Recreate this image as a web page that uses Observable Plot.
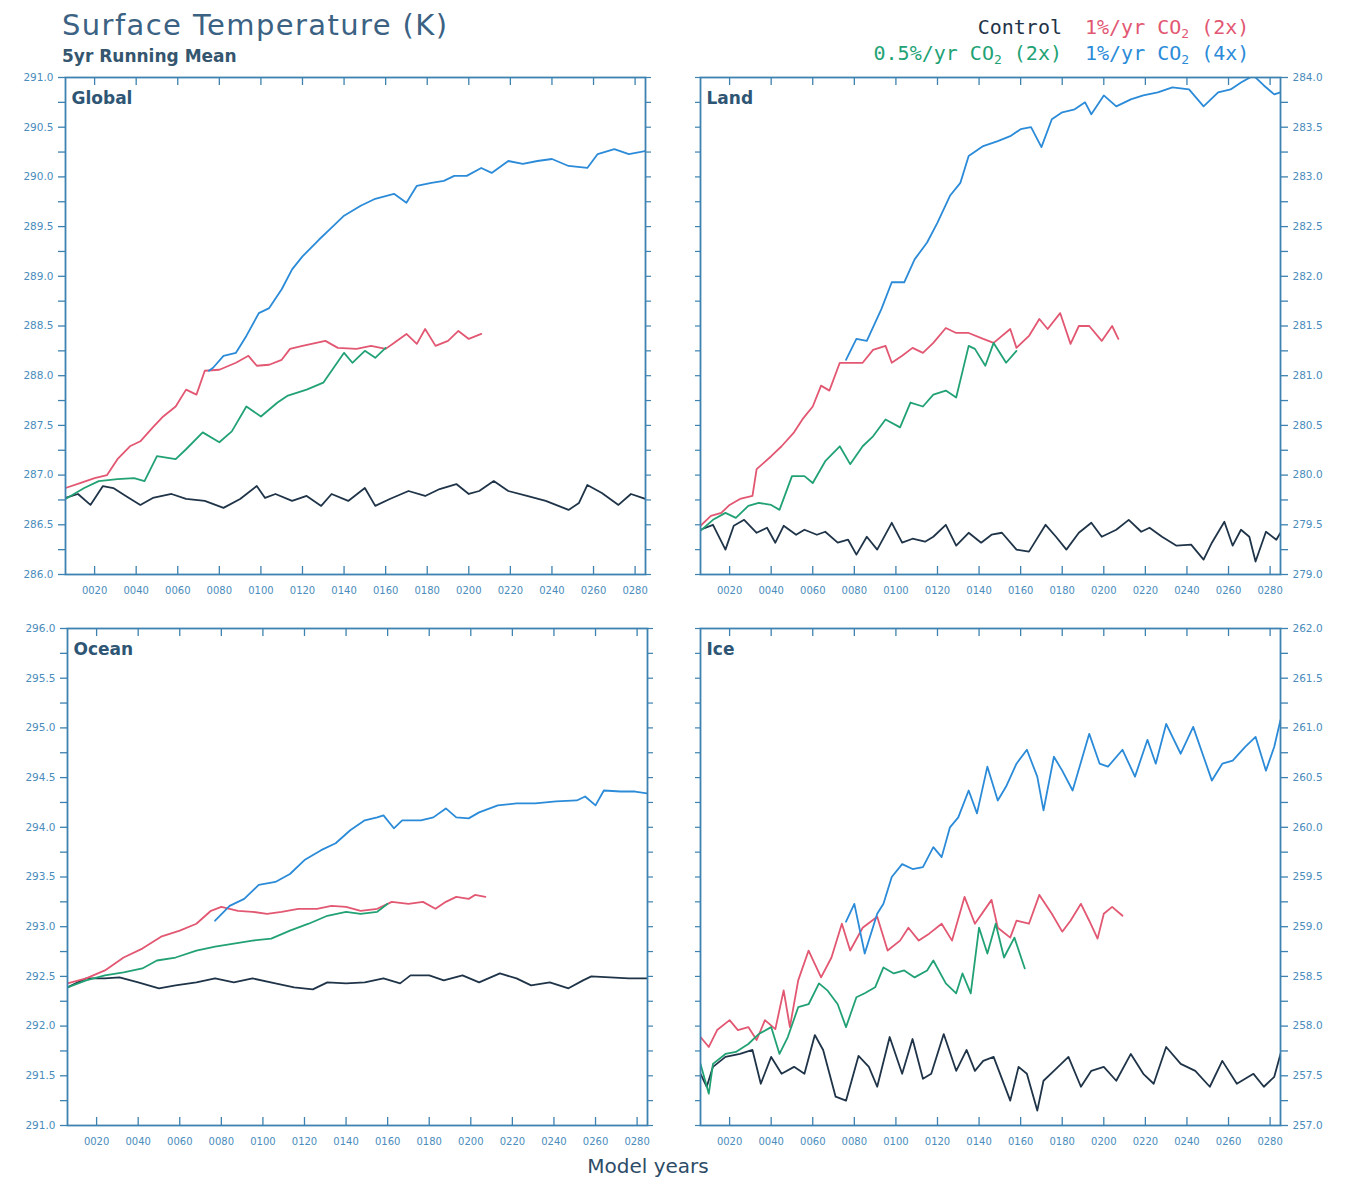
<!DOCTYPE html>
<html>
<head>
<meta charset="utf-8">
<script src="https://cdn.jsdelivr.net/npm/d3@7"></script>
<script src="https://cdn.jsdelivr.net/npm/@observablehq/plot@0.6"></script>
<style>
  html, body { margin: 0; padding: 0; background: #fff; }
  #root { position: relative; width: 1350px; height: 1180px; background: #fff; overflow: hidden; font-family: "DejaVu Sans", sans-serif; }
  .abs { position: absolute; white-space: nowrap; }
  .panel { position: absolute; }
  .panel svg { background: transparent; }
  #title { left: 62px; top: 8px; font-size: 29px; color: #3b6283; letter-spacing: 1.4px; }
  #subtitle { left: 62px; top: 46px; font-size: 17px; font-weight: bold; color: #35566f; }
  .leg { font-family: "DejaVu Sans Mono", monospace; font-size: 20px; }
  .leg sub { font-size: 13px; vertical-align: -4px; }
  #xlabel { left: 0; width: 1296px; text-align: center; top: 1154px; font-size: 20px; color: #2d4c68; }
</style>
</head>
<body>
<div id="root">
  <div id="title" class="abs">Surface Temperature (K)</div>
  <div id="subtitle" class="abs">5yr Running Mean</div>
  <div id="xlabel" class="abs">Model years</div>
</div>
<script>
// ---------------- data ----------------
const seriesNames = ["Control", "1%/yr CO2 (2x)", "0.5%/yr CO2 (2x)", "1%/yr CO2 (4x)"];
const xTickYears = [20, 40, 60, 80, 100, 120, 140, 160, 180, 200, 220, 240, 260, 280];
const yearDomain = [6, 285];

// Global
const globalControl = [[6,286.77],[12,286.81],[18,286.70],[24,286.89],[29,286.87],[35,286.79],[42,286.70],[48,286.77],[57,286.81],[64,286.76],[73,286.74],[82,286.67],[90,286.76],[98,286.89],[102,286.77],[107,286.81],[115,286.74],[122,286.79],[129,286.69],[134,286.81],[142,286.74],[150,286.87],[155,286.69],[162,286.76],[171,286.84],[179,286.79],[186,286.86],[194,286.91],[200,286.81],[205,286.84],[212,286.94],[219,286.84],[228,286.79],[237,286.74],[248,286.65],[253,286.72],[257,286.90],[264,286.82],[272,286.70],[278,286.81],[285,286.76]];
const global1pct2x = [[6,286.87],[13,286.92],[20,286.97],[26,287.00],[31,287.16],[37,287.29],[42,287.34],[48,287.48],[53,287.59],[59,287.69],[64,287.86],[69,287.81],[73,288.05],[80,288.06],[88,288.13],[94,288.20],[98,288.10],[104,288.11],[110,288.16],[114,288.27],[120,288.30],[131,288.35],[137,288.28],[146,288.27],[153,288.30],[160,288.27],[164,288.33],[170,288.42],[175,288.32],[179,288.47],[184,288.30],[190,288.35],[195,288.45],[200,288.37],[206,288.42]];
const globalHalfPct2x = [[6,286.76],[15,286.87],[22,286.94],[31,286.96],[39,286.97],[44,286.94],[50,287.19],[59,287.16],[64,287.26],[72,287.43],[80,287.33],[86,287.44],[93,287.69],[100,287.59],[108,287.73],[113,287.80],[122,287.86],[130,287.93],[135,288.08],[140,288.23],[144,288.13],[150,288.25],[155,288.18],[160,288.28]];
const global1pct4x = [[75,288.05],[77,288.08],[82,288.20],[88,288.23],[93,288.40],[99,288.63],[104,288.68],[110,288.87],[115,289.07],[120,289.20],[128,289.37],[133,289.47],[140,289.61],[148,289.71],[155,289.78],[164,289.83],[170,289.74],[175,289.91],[182,289.94],[188,289.96],[193,290.01],[199,290.01],[206,290.09],[211,290.04],[219,290.16],[226,290.13],[233,290.16],[240,290.18],[248,290.11],[257,290.09],[262,290.23],[270,290.28],[277,290.23],[285,290.26]];

// Land
const landControl = [[6,279.45],[12,279.50],[18,279.25],[22,279.49],[27,279.55],[33,279.42],[38,279.47],[42,279.32],[46,279.49],[52,279.40],[56,279.45],[62,279.40],[66,279.43],[72,279.32],[77,279.35],[81,279.20],[86,279.38],[91,279.25],[98,279.52],[103,279.32],[108,279.36],[114,279.33],[118,279.38],[124,279.50],[129,279.29],[135,279.42],[141,279.32],[146,279.40],[151,279.42],[158,279.25],[164,279.23],[172,279.50],[177,279.38],[182,279.25],[188,279.42],[194,279.52],[199,279.38],[206,279.45],[212,279.55],[218,279.43],[222,279.47],[228,279.38],[235,279.29],[242,279.30],[248,279.15],[252,279.32],[258,279.53],[262,279.29],[266,279.45],[270,279.38],[273,279.13],[278,279.43],[283,279.35],[285,279.42]];
const land1pct2x = [[6,279.49],[11,279.59],[16,279.62],[20,279.70],[25,279.76],[31,279.79],[33,280.06],[40,280.19],[45,280.29],[51,280.43],[55,280.56],[60,280.69],[64,280.90],[68,280.85],[73,281.13],[78,281.13],[84,281.13],[89,281.26],[95,281.30],[98,281.13],[103,281.20],[108,281.28],[113,281.23],[118,281.33],[124,281.48],[129,281.43],[135,281.43],[142,281.37],[147,281.33],[155,281.47],[158,281.28],[164,281.40],[169,281.57],[173,281.47],[179,281.63],[184,281.32],[188,281.50],[193,281.50],[199,281.35],[204,281.50],[207,281.37]];
const landHalfPct2x = [[6,279.44],[12,279.55],[18,279.62],[23,279.57],[29,279.69],[34,279.72],[40,279.70],[44,279.65],[50,279.99],[56,279.99],[60,279.92],[66,280.14],[73,280.29],[78,280.11],[84,280.29],[89,280.39],[95,280.56],[102,280.48],[107,280.73],[113,280.69],[118,280.81],[124,280.85],[129,280.78],[135,281.30],[138,281.27],[143,281.10],[147,281.33],[153,281.13],[158,281.25]];
const land1pct4x = [[76,281.16],[81,281.37],[86,281.35],[93,281.67],[98,281.94],[104,281.94],[109,282.17],[115,282.34],[120,282.54],[126,282.81],[131,282.94],[135,283.21],[142,283.31],[149,283.36],[155,283.41],[160,283.48],[165,283.50],[170,283.30],[175,283.58],[180,283.65],[186,283.68],[191,283.75],[194,283.63],[200,283.82],[206,283.71],[213,283.78],[219,283.82],[226,283.85],[233,283.90],[241,283.88],[248,283.71],[255,283.85],[261,283.88],[266,283.95],[272,284.02],[277,283.92],[282,283.83],[285,283.85]];

// Ocean
const oceanControl = [[6,292.39],[15,292.48],[24,292.48],[31,292.49],[40,292.44],[50,292.38],[58,292.41],[68,292.44],[77,292.48],[86,292.44],[95,292.48],[106,292.43],[115,292.39],[124,292.37],[131,292.44],[140,292.43],[149,292.44],[158,292.48],[166,292.43],[171,292.51],[180,292.51],[187,292.46],[196,292.51],[204,292.44],[214,292.53],[222,292.48],[229,292.41],[238,292.44],[247,292.38],[254,292.46],[258,292.50],[267,292.49],[276,292.48],[285,292.48]];
const ocean1pct2x = [[6,292.43],[15,292.48],[24,292.56],[33,292.69],[42,292.78],[51,292.90],[60,292.96],[68,293.03],[75,293.16],[80,293.20],[88,293.16],[95,293.15],[102,293.13],[109,293.15],[117,293.18],[126,293.18],[133,293.21],[140,293.20],[147,293.16],[155,293.18],[162,293.25],[170,293.23],[177,293.25],[183,293.18],[188,293.25],[193,293.30],[199,293.28],[202,293.32],[207,293.30]];
const oceanHalfPct2x = [[6,292.39],[15,292.46],[24,292.51],[33,292.54],[42,292.58],[49,292.66],[58,292.69],[68,292.76],[77,292.80],[86,292.83],[95,292.86],[104,292.88],[113,292.96],[122,293.03],[131,293.11],[140,293.15],[147,293.13],[155,293.15],[160,293.23]];
const ocean1pct4x = [[77,293.06],[84,293.21],[91,293.28],[98,293.42],[106,293.45],[113,293.53],[120,293.67],[128,293.77],[135,293.84],[142,293.97],[149,294.07],[155,294.10],[158,294.12],[163,293.99],[167,294.07],[176,294.07],[182,294.10],[188,294.19],[193,294.10],[199,294.09],[204,294.15],[213,294.22],[222,294.24],[231,294.24],[241,294.26],[251,294.27],[255,294.31],[260,294.22],[264,294.37],[272,294.36],[279,294.36],[285,294.34]];

// Ice
const iceControl = [[6,257.52],[9,257.39],[12,257.59],[18,257.69],[25,257.72],[31,257.76],[35,257.42],[40,257.69],[45,257.52],[51,257.59],[56,257.52],[61,257.91],[65,257.76],[71,257.29],[76,257.25],[82,257.70],[87,257.59],[91,257.39],[97,257.89],[103,257.52],[108,257.87],[113,257.47],[117,257.52],[123,257.92],[129,257.55],[134,257.76],[138,257.55],[142,257.65],[147,257.69],[155,257.25],[159,257.59],[163,257.52],[168,257.15],[171,257.45],[176,257.55],[183,257.69],[189,257.39],[194,257.55],[200,257.59],[206,257.45],[213,257.72],[219,257.52],[224,257.42],[230,257.79],[237,257.62],[244,257.55],[251,257.39],[257,257.65],[264,257.42],[272,257.52],[277,257.39],[282,257.49],[285,257.72]];
const ice1pct2x = [[6,257.89],[10,257.79],[14,257.96],[20,258.06],[24,257.96],[29,257.99],[33,257.86],[37,258.06],[42,257.97],[46,258.36],[49,257.99],[53,258.46],[58,258.76],[64,258.49],[69,258.69],[74,259.03],[78,258.76],[84,258.99],[91,259.10],[96,258.76],[102,258.86],[106,258.99],[111,258.86],[116,258.93],[122,259.03],[127,258.86],[133,259.30],[138,259.03],[146,259.27],[149,258.99],[155,258.89],[158,259.06],[164,259.03],[169,259.32],[175,259.13],[180,258.95],[184,259.06],[189,259.23],[193,259.06],[197,258.88],[200,259.13],[204,259.20],[209,259.11]];
const iceHalfPct2x = [[6,257.62],[10,257.32],[12,257.62],[18,257.72],[23,257.74],[29,257.82],[34,257.92],[40,257.99],[44,257.72],[48,257.89],[53,258.19],[58,258.22],[63,258.43],[67,258.36],[72,258.22],[76,257.99],[81,258.29],[85,258.33],[90,258.39],[94,258.59],[99,258.53],[104,258.56],[109,258.49],[115,258.56],[118,258.66],[124,258.43],[129,258.33],[132,258.53],[136,258.33],[140,258.99],[144,258.73],[148,259.03],[152,258.69],[157,258.89],[162,258.58]];
const ice1pct4x = [[76,259.05],[80,259.23],[85,258.73],[91,259.13],[94,259.23],[98,259.50],[103,259.63],[108,259.58],[113,259.60],[118,259.80],[122,259.70],[126,260.00],[130,260.10],[135,260.37],[139,260.14],[144,260.61],[149,260.27],[153,260.41],[158,260.64],[163,260.78],[168,260.51],[171,260.17],[176,260.71],[180,260.57],[185,260.37],[193,260.94],[198,260.64],[202,260.61],[209,260.78],[215,260.51],[221,260.88],[225,260.64],[230,261.04],[237,260.74],[243,261.01],[248,260.71],[252,260.47],[257,260.64],[262,260.67],[268,260.81],[273,260.91],[278,260.57],[282,260.81],[285,261.08]];

// ---------------- styling ----------------
const seriesColors = ["#1f3448", "#e25772", "#22a274", "#2b8bd8"];
const axisColor = "#3d82b0";
const labelColor = "#4a8cbc";
const panelTitleColor = "#2e5674";

const root = document.getElementById("root");

function makePanel({name, series, yDomain, side, left, top, mLeft, mRight, mTop, mBottom}) {
  const plotW = 580, plotH = 497;
  const rows = series.flatMap((pts, i) => pts.map(([year, temp]) => ({year, temp, series: seriesNames[i]})));
  const ticks = d3.range(yDomain[0], yDomain[1] + 0.001, 0.25);
  const fmt = d => (Math.abs(d * 2 - Math.round(d * 2)) < 1e-6 ? d.toFixed(1) : "");
  const other = side === "left" ? "right" : "left";
  const chart = Plot.plot({
    width: mLeft + plotW + mRight,
    height: mTop + plotH + mBottom,
    marginLeft: mLeft, marginRight: mRight, marginTop: mTop, marginBottom: mBottom,
    x: {domain: yearDomain, label: null},
    y: {domain: yDomain, label: null},
    color: {domain: seriesNames, range: seriesColors},
    style: {background: "transparent", fontFamily: "DejaVu Sans, sans-serif", fontSize: "10.5px", color: labelColor, overflow: "visible"},
    marks: [
      Plot.axisY({anchor: side, ticks, tickSize: 7, tickPadding: 5, tickFormat: fmt, stroke: axisColor, strokeWidth: 1.3}),
      Plot.axisY({anchor: other, ticks, tickSize: 5, tickFormat: () => "", stroke: axisColor, strokeWidth: 1.2}),
      Plot.axisX({anchor: "bottom", ticks: xTickYears, tickSize: 0, tickPadding: 12, tickFormat: d3.format("04d"), fontSize: 10}),
      Plot.tickX(xTickYears, {x: d => d, insetTop: plotH - 8, stroke: axisColor, strokeWidth: 1.3}),
      Plot.tickX(xTickYears, {x: d => d, insetBottom: plotH - 8, stroke: axisColor, strokeWidth: 1.3}),
      Plot.line(rows, {x: "year", y: "temp", z: "series", stroke: "series", strokeWidth: 1.8, clip: true}),
      Plot.frame({stroke: axisColor, strokeWidth: 1.8}),
      Plot.text([name], {frameAnchor: "top-left", dx: 6, dy: 14, fontSize: 17, fontWeight: "bold", fill: panelTitleColor, text: d => d})
    ]
  });
  const wrap = document.createElement("div");
  wrap.className = "panel";
  wrap.style.left = left + "px";
  wrap.style.top = top + "px";
  wrap.appendChild(chart);
  root.appendChild(wrap);
}

makePanel({name: "Global", series: [globalControl, global1pct2x, globalHalfPct2x, global1pct4x], yDomain: [286, 291], side: "left",
  left: 0, top: 70, mLeft: 65, mRight: 10, mTop: 7, mBottom: 38});
makePanel({name: "Land", series: [landControl, land1pct2x, landHalfPct2x, land1pct4x], yDomain: [279, 284], side: "right",
  left: 675, top: 70, mLeft: 25, mRight: 70, mTop: 7, mBottom: 38});
makePanel({name: "Ocean", series: [oceanControl, ocean1pct2x, oceanHalfPct2x, ocean1pct4x], yDomain: [291, 296], side: "left",
  left: 0, top: 615, mLeft: 67, mRight: 8, mTop: 13, mBottom: 36});
makePanel({name: "Ice", series: [iceControl, ice1pct2x, iceHalfPct2x, ice1pct4x], yDomain: [257, 262], side: "right",
  left: 675, top: 615, mLeft: 25, mRight: 70, mTop: 13, mBottom: 36});

// legend (top right)
const legendRows = [[0, 1], [2, 3]];
const legendLabels = ["Control", "1%/yr CO<sub>2</sub> (2x)", "0.5%/yr CO<sub>2</sub> (2x)", "1%/yr CO<sub>2</sub> (4x)"];
legendRows.forEach((pair, r) => {
  const a = document.createElement("div");
  a.className = "abs leg";
  a.style.right = (1350 - 1062) + "px";
  a.style.top = (15 + r * 26) + "px";
  a.style.color = seriesColors[pair[0]];
  a.innerHTML = legendLabels[pair[0]];
  root.appendChild(a);
  const b = document.createElement("div");
  b.className = "abs leg";
  b.style.left = "1085px";
  b.style.top = (15 + r * 26) + "px";
  b.style.color = seriesColors[pair[1]];
  b.innerHTML = legendLabels[pair[1]];
  root.appendChild(b);
});
</script>
</body>
</html>
